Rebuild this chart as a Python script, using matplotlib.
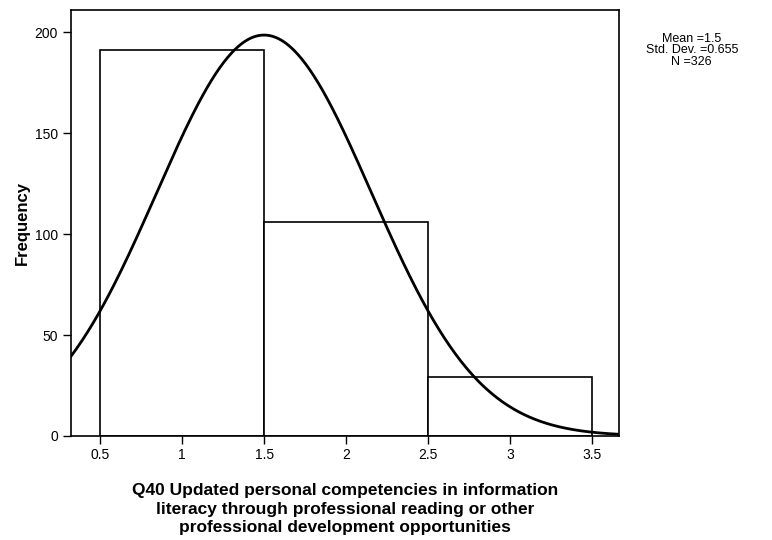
import numpy as np
from matplotlib import pyplot as plt

# histogram data (bin centres and counts)
bin_centers = [1, 2, 3]
counts = [191, 106, 29]
bin_width = 1.0

# summary statistics shown in the chart
mean = 1.5
std = 0.655
n = 326

xticks = [0.5, 1, 1.5, 2, 2.5, 3, 3.5]
yticks = [0, 50, 100, 150, 200]

plt.rcParams["font.family"] = ["Liberation Sans", "DejaVu Sans"]

fig = plt.figure(figsize=(7.72, 5.4), dpi=100)
ax = fig.add_axes([0.092, 0.1926, 0.710, 0.789])

ax.bar(bin_centers, counts, width=bin_width, facecolor="white",
       edgecolor="black", linewidth=1.2, zorder=2)

# fitted normal curve (SPSS style)
xs = np.linspace(0.323, 3.665, 400)
ys = n * bin_width / (std * np.sqrt(2 * np.pi)) * np.exp(-0.5 * ((xs - mean) / std) ** 2)
ax.plot(xs, ys, "k-", linewidth=2, zorder=3)

ax.set_xlim(0.323, 3.665)
ax.set_ylim(0, 211)
ax.set_xticks(xticks)
ax.set_xticklabels(["0.5", "1", "1.5", "2", "2.5", "3", "3.5"])
ax.set_yticks(yticks)
ax.tick_params(direction="out", length=6, width=1, labelsize=10, colors="black")
ax.tick_params(axis="x", pad=3)
for s in ax.spines.values():
    s.set_linewidth(1.2)

ax.set_ylabel("Frequency", fontsize=12, fontweight="bold", labelpad=3)
ax.set_xlabel("Q40 Updated personal competencies in information\n"
              "literacy through professional reading or other\n"
              "professional development opportunities",
              fontsize=12.5, fontweight="bold", linespacing=1.28, labelpad=15)

fig.text(0.896, 0.907, "Mean =1.5\nStd. Dev. =0.655\nN =326",
         ha="center", va="center", fontsize=9, linespacing=0.95)

fig.savefig("out.png", dpi=100)
